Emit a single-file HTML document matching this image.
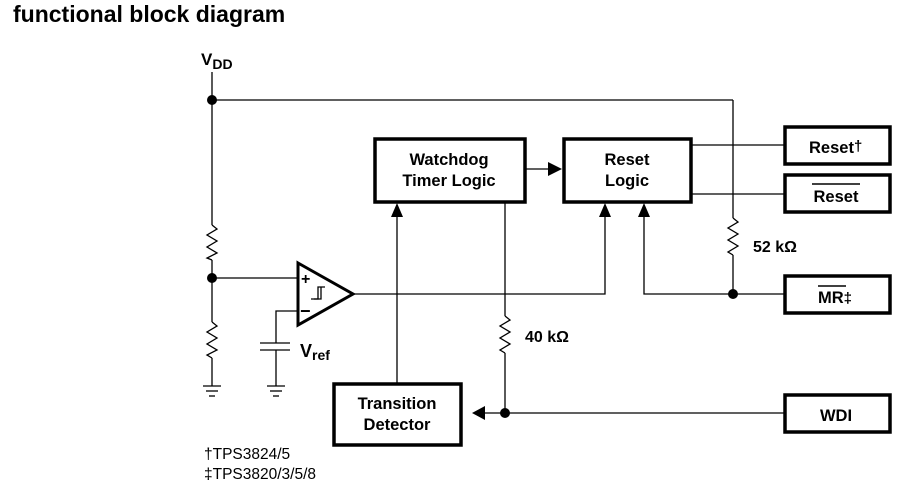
<!DOCTYPE html>
<html><head><style>
html,body{margin:0;padding:0;background:#fff;}
svg{display:block;}
text{font-family:"Liberation Sans",Arial,sans-serif;fill:#000;}
</style></head><body>
<svg width="921" height="497" viewBox="0 0 921 497" xmlns="http://www.w3.org/2000/svg">
<text x="13" y="22" font-size="23" font-weight="bold">functional block diagram</text>
<g stroke="#000" stroke-width="1.3" fill="none">
<line x1="212" y1="72" x2="212" y2="225"/>
<line x1="212" y1="100" x2="733" y2="100"/>
<polyline points="212,225 217,229 207,235 217,241 207,247 217,253 207,258 212,260"/>
<line x1="212" y1="260" x2="212" y2="322"/>
<polyline points="212,322 217,326 207,332 217,338 207,344 217,350 207,355 212,358"/>
<line x1="212" y1="358" x2="212" y2="386"/>
<line x1="203" y1="386" x2="221" y2="386"/><line x1="206" y1="391" x2="218" y2="391"/><line x1="209" y1="396" x2="215" y2="396"/>
<line x1="212" y1="278" x2="298" y2="278"/>
<polyline points="298,311 276,311 276,343"/>
<line x1="260" y1="343" x2="290" y2="343"/>
<line x1="260" y1="350" x2="290" y2="350"/>
<line x1="276" y1="350" x2="276" y2="386"/>
<line x1="267" y1="386" x2="285" y2="386"/><line x1="270" y1="391" x2="282" y2="391"/><line x1="273" y1="396" x2="279" y2="396"/>
<polyline points="353,294 605,294 605,215"/>
<polyline points="311,299 318,299 318,287 325,287" stroke-width="1.3"/>
<polyline points="314,299 321,299 321,287" stroke-width="1.3"/>
<line x1="733" y1="100" x2="733" y2="218"/>
<polyline points="733,218 738,222 728,228 738,234 728,240 738,246 728,252 733,255"/>
<line x1="733" y1="255" x2="733" y2="294"/>
<polyline points="784,294 644,294 644,215"/>
<line x1="691" y1="145" x2="784" y2="145"/>
<line x1="691" y1="194" x2="784" y2="194"/>
<line x1="526" y1="169" x2="548" y2="169"/>
<line x1="505" y1="203" x2="505" y2="316"/>
<polyline points="505,316 510,320 500,326 510,332 500,338 510,344 500,350 505,353"/>
<line x1="505" y1="353" x2="505" y2="413"/>
<line x1="784" y1="413" x2="485" y2="413"/>
<line x1="397" y1="383" x2="397" y2="216"/>
</g>
<polygon points="298,263 353,294 298,325" fill="none" stroke="#000" stroke-width="3"/>
<text x="301" y="284" font-size="16" font-weight="bold">+</text>
<text x="300" y="317" font-size="18" font-weight="bold">−</text>
<g fill="#000">
<circle cx="212" cy="100" r="5"/>
<circle cx="212" cy="278" r="5"/>
<circle cx="733" cy="294" r="5"/>
<circle cx="505" cy="413" r="5"/>
<polygon points="548,162 562,169 548,176"/>
<polygon points="397,203 391,217 403,217"/>
<polygon points="605,203 599,217 611,217"/>
<polygon points="644,203 638,217 650,217"/>
<polygon points="472,413 485,406 485,420"/>
</g>
<g fill="#fff" stroke="#000" stroke-width="3.5">
<rect x="375" y="139" width="150" height="63"/>
<rect x="564" y="139" width="127" height="63"/>
<rect x="334" y="384" width="127" height="61"/>
<rect x="785" y="127" width="105" height="37"/>
<rect x="785" y="175" width="105" height="37"/>
<rect x="785" y="276" width="105" height="37"/>
<rect x="785" y="395" width="105" height="37"/>
</g>
<g font-size="16.5" font-weight="bold" text-anchor="middle">
<text x="449" y="165">Watchdog</text>
<text x="449" y="186">Timer Logic</text>
<text x="627" y="165">Reset</text>
<text x="627" y="186">Logic</text>
<text x="397" y="409">Transition</text>
<text x="397" y="430">Detector</text>
<text x="836" y="202">Reset</text>
<text x="836" y="421">WDI</text>
</g>
<text x="809" y="153" font-size="16.5" font-weight="bold">Reset<tspan font-size="15" dy="-2">†</tspan></text>
<text x="818" y="303" font-size="16.5" font-weight="bold">MR<tspan font-size="15">‡</tspan></text>
<line x1="812" y1="184" x2="860" y2="184" stroke="#000" stroke-width="1.5"/>
<line x1="818" y1="286" x2="846" y2="286" stroke="#000" stroke-width="1.5"/>
<text x="201" y="65" font-size="17" font-weight="bold">V<tspan font-size="14" dy="4">DD</tspan></text>
<text x="300" y="357" font-size="18" font-weight="bold">V<tspan font-size="14" dy="3">ref</tspan></text>
<text x="753" y="252" font-size="16" font-weight="bold">52 kΩ</text>
<text x="525" y="342" font-size="16" font-weight="bold">40 kΩ</text>
<text x="204" y="459" font-size="15.5">†TPS3824/5</text>
<text x="204" y="479" font-size="15.5">‡TPS3820/3/5/8</text>
</svg>
</body></html>
